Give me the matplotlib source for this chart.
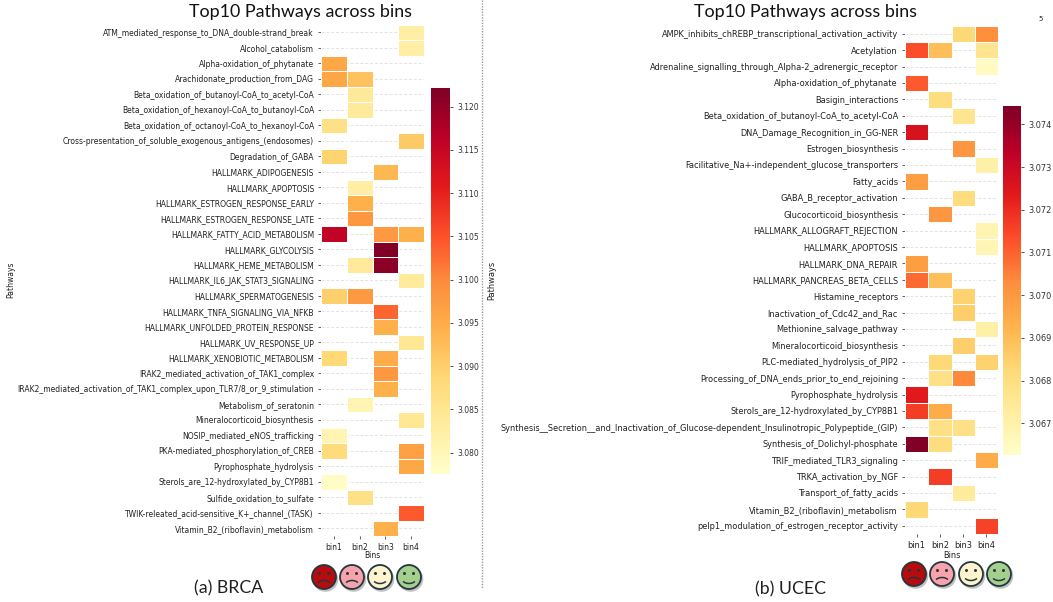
import numpy as np
import matplotlib
matplotlib.use("Agg")
import matplotlib.pyplot as plt
from matplotlib.patches import Circle, Arc

W, H = 1053, 602
x = np.nan

bins = ["bin1", "bin2", "bin3", "bin4"]

# panel a
brca_pathways = ["ATM_mediated_response_to_DNA_double-strand_break", "Alcohol_catabolism",
    "Alpha-oxidation_of_phytanate", "Arachidonate_production_from_DAG",
    "Beta_oxidation_of_butanoyl-CoA_to_acetyl-CoA", "Beta_oxidation_of_hexanoyl-CoA_to_butanoyl-CoA",
    "Beta_oxidation_of_octanoyl-CoA_to_hexanoyl-CoA", "Cross-presentation_of_soluble_exogenous_antigens_(endosomes)",
    "Degradation_of_GABA", "HALLMARK_ADIPOGENESIS", "HALLMARK_APOPTOSIS", "HALLMARK_ESTROGEN_RESPONSE_EARLY",
    "HALLMARK_ESTROGEN_RESPONSE_LATE", "HALLMARK_FATTY_ACID_METABOLISM", "HALLMARK_GLYCOLYSIS",
    "HALLMARK_HEME_METABOLISM", "HALLMARK_IL6_JAK_STAT3_SIGNALING", "HALLMARK_SPERMATOGENESIS",
    "HALLMARK_TNFA_SIGNALING_VIA_NFKB", "HALLMARK_UNFOLDED_PROTEIN_RESPONSE", "HALLMARK_UV_RESPONSE_UP",
    "HALLMARK_XENOBIOTIC_METABOLISM", "IRAK2_mediated_activation_of_TAK1_complex",
    "IRAK2_mediated_activation_of_TAK1_complex_upon_TLR7/8_or_9_stimulation", "Metabolism_of_seratonin",
    "Mineralocorticoid_biosynthesis", "NOSIP_mediated_eNOS_trafficking", "PKA-mediated_phosphorylation_of_CREB",
    "Pyrophosphate_hydrolysis", "Sterols_are_12-hydroxylated_by_CYP8B1", "Sulfide_oxidation_to_sulfate",
    "TWIK-releated_acid-sensitive_K+_channel_(TASK)", "Vitamin_B2_(riboflavin)_metabolism"]
brca_bin1 = [x, x, 3.096, 3.096, x, x, 3.0865, x, 3.0896, x, x, x, x, 3.116, x, x, x, 3.090, x, x, x, 3.0888,
             x, x, x, x, 3.081, 3.088, x, 3.0785, x, x, x]
brca_bin2 = [x, x, x, 3.092, 3.084, 3.084, x, x, x, x, 3.083, 3.0945, 3.0985, x, x, 3.084, x, 3.098, x, x, x, x,
             x, x, 3.081, x, x, x, x, x, 3.0865, x, x]
brca_bin3 = [x, x, x, x, x, x, x, x, x, 3.0936, x, x, x, 3.098, 3.122, 3.121, x, x, 3.1035, 3.0945, x, 3.0955,
             3.0985, 3.0945, x, x, x, x, x, x, x, x, 3.0945]
brca_bin4 = [3.083, 3.083, x, x, x, x, x, 3.091, x, x, x, x, x, 3.0945, x, x, 3.0838, x, x, x, 3.0848, x,
             x, x, x, 3.085, x, 3.097, 3.096, x, x, 3.1045, x]
brca_ticks = [3.080, 3.085, 3.090, 3.095, 3.100, 3.105, 3.110, 3.115, 3.120]

# panel b
ucec_pathways = ["AMPK_inhibits_chREBP_transcriptional_activation_activity", "Acetylation",
    "Adrenaline_signalling_through_Alpha-2_adrenergic_receptor", "Alpha-oxidation_of_phytanate",
    "Basigin_interactions", "Beta_oxidation_of_butanoyl-CoA_to_acetyl-CoA", "DNA_Damage_Recognition_in_GG-NER",
    "Estrogen_biosynthesis", "Facilitative_Na+-independent_glucose_transporters", "Fatty_acids",
    "GABA_B_receptor_activation", "Glucocorticoid_biosynthesis", "HALLMARK_ALLOGRAFT_REJECTION",
    "HALLMARK_APOPTOSIS", "HALLMARK_DNA_REPAIR", "HALLMARK_PANCREAS_BETA_CELLS", "Histamine_receptors",
    "Inactivation_of_Cdc42_and_Rac", "Methionine_salvage_pathway", "Mineralocorticoid_biosynthesis",
    "PLC-mediated_hydrolysis_of_PIP2", "Processing_of_DNA_ends_prior_to_end_rejoining",
    "Pyrophosphate_hydrolysis", "Sterols_are_12-hydroxylated_by_CYP8B1",
    "Synthesis__Secretion__and_Inactivation_of_Glucose-dependent_Insulinotropic_Polypeptide_(GIP)",
    "Synthesis_of_Dolichyl-phosphate", "TRIF_mediated_TLR3_signaling", "TRKA_activation_by_NGF",
    "Transport_of_fatty_acids", "Vitamin_B2_(riboflavin)_metabolism", "pelp1_modulation_of_estrogen_receptor_activity"]
ucec_bin1 = [x, 3.0714, x, 3.0712, x, x, 3.0727, x, x, 3.0699, x, x, x, x, 3.0699, 3.0709, x, x, x, x,
             x, x, 3.0724, 3.0717, x, 3.0744, x, x, x, 3.0683, x]
ucec_bin2 = [x, 3.0690, x, x, 3.0681, x, x, x, x, x, x, 3.0701, x, x, x, 3.0690, x, x, x, x,
             3.0683, 3.0679, x, 3.0695, 3.0679, 3.0681, x, 3.0717, x, x, x]
ucec_bin3 = [3.0683, x, x, x, x, 3.0677, x, 3.0701, x, x, 3.0681, x, x, x, x, x, 3.0685, 3.0686, x, 3.0686,
             x, 3.0704, x, x, 3.0679, x, x, x, 3.0674, x, x]
ucec_bin4 = [3.0703, 3.0677, 3.0665, x, x, x, x, x, 3.0671, x, x, x, 3.0669, 3.0668, x, x, x, x, 3.0671, x,
             3.0685, x, x, x, x, x, 3.0695, x, x, x, 3.0716]
ucec_ticks = [3.067, 3.068, 3.069, 3.070, 3.071, 3.072, 3.073, 3.074]


def box(l, t, r, b):
    return [l / W, 1 - b / H, (r - l) / W, (b - t) / H]


def heat(pathways, cols, ticks, vmin, vmax, hm_box, cb_box, fs, ylab_x, xlab_y):
    ax = fig.add_axes(box(*hm_box))
    vals = np.ma.masked_invalid(np.array(cols).T)
    ypos = np.arange(len(pathways)) + 0.5
    xpos = np.arange(len(bins)) + 0.5
    ax.hlines(ypos, 0, len(bins), color="#e2e2e2", lw=0.7, ls=(0, (3, 2)), zorder=1)
    m = ax.pcolormesh(vals, cmap="YlOrRd", vmin=vmin, vmax=vmax, edgecolors="white", linewidth=0.5, zorder=2)
    ax.set_xlim(0, len(bins))
    ax.set_ylim(len(pathways), 0)
    ax.set_yticks(ypos)
    ax.set_yticklabels(pathways, fontsize=fs, color="#222222")
    ax.set_xticks(xpos)
    ax.set_xticklabels(bins, fontsize=fs, color="#222222")
    ax.tick_params(axis="both", length=2.5, width=0.6, pad=2.5, color="#444444")
    for s in ax.spines.values():
        s.set_visible(False)
    cax = fig.add_axes(box(*cb_box))
    cb = fig.colorbar(m, cax=cax)
    cb.set_ticks(ticks)
    cb.set_ticklabels(["%.3f" % t for t in ticks])
    cb.ax.tick_params(labelsize=fs, length=2.5, width=0.6, pad=2.5, colors="#333333")
    cb.outline.set_visible(False)
    cb.solids.set_edgecolor("face")
    over.text((hm_box[0] + hm_box[2]) / 2, xlab_y, "Bins", fontsize=fs, ha="center", va="center", color="#222222")
    over.text(ylab_x, 280, "Pathways", fontsize=fs, rotation=90, ha="center", va="center", color="#222222")


def face(cx, cy, col, happy):
    r = 12
    over.add_patch(Circle((cx + 1.5, cy + 2), r + 0.8, fc="#999999", ec="none", alpha=0.6, zorder=3))
    over.add_patch(Circle((cx, cy), r, fc=col, ec="#24363f", lw=1.3, zorder=4))
    for dx in (-4.5, 4.5):
        over.add_patch(Circle((cx + dx, cy - 3.5), 1.5, fc="#24363f", ec="none", zorder=5))
    if happy:
        over.add_patch(Arc((cx, cy + 1), 15, 11, theta1=30, theta2=150, ec="#24363f", lw=1.1, zorder=5))
    else:
        over.add_patch(Arc((cx, cy + 9), 15, 11, theta1=210, theta2=330, ec="#24363f", lw=1.1, zorder=5))


fig = plt.figure(figsize=(W / 100, H / 100), dpi=100)
over = fig.add_axes([0, 0, 1, 1])
over.set_xlim(0, W)
over.set_ylim(H, 0)
over.axis("off")

heat(brca_pathways, [brca_bin1, brca_bin2, brca_bin3, brca_bin4], brca_ticks, 3.0776, 3.1222,
     (321, 24.5, 424, 536), (431, 87.5, 450, 473.5), 5.5, 11, 556)
heat(ucec_pathways, [ucec_bin1, ucec_bin2, ucec_bin3, ucec_bin4], ucec_ticks, 3.06627, 3.07443,
     (905, 25.5, 998, 534), (1003, 106, 1021, 454.5), 5.95, 492, 555.5)

# titles and captions
over.text(300.5, 12.5, "Top10 Pathways across bins", fontsize=12.9, family="Lato", ha="center", va="center", color="#111111")
over.text(806, 11.5, "Top10 Pathways across bins", fontsize=12.9, family="Lato", ha="center", va="center", color="#111111")
over.text(229, 588, "(a) BRCA", fontsize=12.8, family="Lato", ha="center", va="center", color="#222222")
over.text(790.5, 589, "(b) UCEC", fontsize=12.8, family="Lato", ha="center", va="center", color="#222222")
over.text(1041, 19, "5", fontsize=5, ha="center", va="center", color="#222222")

# divider
over.plot([482, 482], [0, 588], color="#999999", lw=1.0, ls=(0, (1, 1)))

face_cols = ["#b80b0e", "#f8a3ac", "#fdf3cd", "#a5cf8c"]
for cx, c, hp in zip([324, 352, 380, 409], face_cols, [False, False, True, True]):
    face(cx, 577, c, hp)
for cx, c, hp in zip([914, 942, 971, 999], face_cols, [False, False, True, True]):
    face(cx, 574, c, hp)

fig.savefig("out.png", dpi=100)
